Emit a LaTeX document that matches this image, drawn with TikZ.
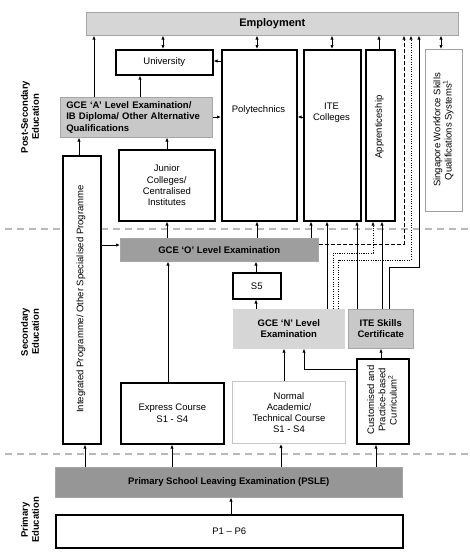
\documentclass[tikz,border=0pt]{standalone}
\usepackage{fontspec}
\setmainfont{Liberation Sans}
\usetikzlibrary{arrows.meta}
\definecolor{lgray}{RGB}{214,214,214}
\definecolor{mgray}{RGB}{200,200,200}
\definecolor{dgray}{RGB}{158,158,158}
\definecolor{bgray}{RGB}{150,150,150}
\begin{document}
\begin{tikzpicture}[x=1pt,y=-1pt,
  bx/.style={draw=black, line width=1.6pt, fill=white, inner sep=0pt, anchor=north west, align=center, font=\fontsize{9.5}{11.2}\selectfont},
  gbx/.style={bx, draw=gray!70, line width=0.6pt, font=\fontsize{9.5}{11.2}\selectfont\bfseries},
  txt/.style={inner sep=0pt, align=center, font=\fontsize{9.5}{11.2}\selectfont},
  side/.style={inner sep=0pt, align=center, rotate=90, font=\fontsize{9.5}{10.8}\selectfont\bfseries},
  arr/.style={line width=0.9pt, -{Latex[length=4pt,width=3.4pt]}},
  darr/.style={line width=0.9pt, {Latex[length=4pt,width=3.4pt]}-{Latex[length=4pt,width=3.4pt]}},
  dsh/.style={arr, dash pattern=on 4pt off 2pt},
  dtt/.style={arr, dash pattern=on 1.1pt off 1.3pt},
  sep/.style={draw=gray!55, line width=1.1pt, dash pattern=on 7pt off 5pt}
]
\useasboundingbox (0,0) rectangle (470,555);

% separators
\draw[sep] (5,229) -- (468,229);
\draw[sep] (5,454) -- (468,454);

% side labels
\node[side] (lps) at (30,117) {Post-Secondary\\Education};
\node[side] (lsec) at (30,332) {Secondary\\Education};
\node[side] (lpri) at (30,520) {Primary\\Education};

% boxes
\node[gbx, fill=lgray, minimum width=372pt, minimum height=23pt, font=\fontsize{11}{13}\selectfont\bfseries] (emp) at (86,12) {Employment};
\node[bx, minimum width=97pt, minimum height=25pt] (univ) at (115,49) {University};
\node[gbx, fill=mgray, minimum width=152pt, minimum height=40pt, text width=140pt, align=left] (gcea) at (60,97) {GCE ‘A’ Level Examination/\\IB Diploma/ Other Alternative\\Qualifications};
\node[bx, minimum width=75pt, minimum height=171pt] (poly) at (221,49) {};
\node[txt] (polyt) at (258.5,110) {Polytechnics};
\node[bx, minimum width=57pt, minimum height=171pt] (ite) at (303,49) {};
\node[txt] (itet) at (331.5,113) {ITE\\Colleges};
\node[bx, minimum width=29pt, minimum height=171pt] (appr) at (365,49) {};
\node[txt, rotate=90] (apprt) at (379.5,127) {Apprenticeship};
\node[bx, draw=gray!75, line width=1pt, minimum width=37pt, minimum height=162pt] (swsq) at (425,49) {};
\node[txt, rotate=90] (swsqt) at (443.5,130) {Singapore Workforce Skills\\Qualifications Systems\textsuperscript{1}};
\node[bx, minimum width=96pt, minimum height=71pt] (jc) at (118,149) {Junior\\Colleges/\\Centralised\\Institutes};
\node[bx, minimum width=38pt, minimum height=288pt] (ip) at (62,155) {};
\node[txt, rotate=90] (ipt) at (81,299) {Integrated Programme/ Other Specialised Programme};
\node[gbx, fill=dgray, minimum width=198pt, minimum height=23pt] (gceo) at (120,238) {GCE ‘O’ Level Examination};
\node[bx, minimum width=48pt, minimum height=26pt] (s5) at (232,272) {S5};
\node[gbx, fill=lgray, draw=lgray, minimum width=111pt, minimum height=39pt] (gcen) at (233,309) {GCE ‘N’ Level\\Examination};
\node[gbx, fill=mgray, minimum width=65pt, minimum height=39pt] (itesc) at (348,309) {ITE Skills\\Certificate};
\node[bx, minimum width=103pt, minimum height=61pt] (exp) at (120,382) {Express Course\\S1 - S4};
\node[bx, draw=gray!45, line width=1pt, minimum width=113pt, minimum height=62pt] (na) at (232,381) {Normal\\Academic/\\Technical Course\\S1 - S4};
\node[bx, minimum width=52pt, minimum height=85pt] (cust) at (356,358) {};
\node[txt, rotate=90] (custt) at (382,400) {Customised and\\Practice-based\\Curriculum\textsuperscript{2}};
\node[gbx, fill=bgray, minimum width=347pt, minimum height=30pt] (psle) at (55,467) {Primary School Leaving Examination (PSLE)};
\node[bx, minimum width=347pt, minimum height=33pt] (p16) at (55,514) {P1 – P6};

% connectors to employment
\draw[arr] (gcea.north -| 94,0) -- (emp.south -| 94,0);
\draw[darr] (univ.north -| 163,0) -- (emp.south -| 163,0);
\draw[darr] (poly.north -| 257,0) -- (emp.south -| 257,0);
\draw[darr] (ite.north -| 332,0) -- (emp.south -| 332,0);
\draw[arr] (appr.north -| 379,0) -- (emp.south -| 379,0);
\draw[darr] (swsq.north -| 441,0) -- (emp.south -| 441,0);

% post-secondary
\draw[arr] (gcea.north -| 140,0) -- (univ.south -| 140,0);
\draw[arr] (poly.west |- 0,61) -- (univ.east |- 0,61);
\draw[arr] (gcea.east |- 0,117) -- (poly.west |- 0,117);
\draw[arr] (ite.west |- 0,117) -- (poly.east |- 0,117);
\draw[arr] (jc.north -| 167,0) -- (gcea.south -| 167,0);
\draw[arr] (ip.north -| 79,0) -- (gcea.south -| 79,0);

% GCE O
\draw[arr] (ip.east |- 0,245) -- (gceo.west |- 0,245);
\draw[arr] (gceo.north -| 167,0) -- (jc.south -| 167,0);
\draw[arr] (gceo.north -| 257,0) -- (poly.south -| 257,0);
\draw[arr] (gceo.north -| 311,0) -- (ite.south -| 311,0);
\draw[dsh] (gceo.east |- 0,244) -- (404,244) -- (emp.south -| 404,0);

% GCE N
\draw[dtt] (gcen.north -| 333,0) -- (333,253) -- (373,253) -- (appr.south -| 373,0);
\draw[dtt] (gcen.north -| 338,0) -- (338,260) -- (411,260) -- (emp.south -| 411,0);
\draw[arr] (gcen.north -| 327,0) -- (ite.south -| 327,0);
\draw[arr] (gcen.north -| 256,0) -- (s5.south -| 256,0);
\draw[arr] (s5.north -| 256,0) -- (gceo.south -| 256,0);

% ITE skills
\draw[arr] (itesc.north -| 357,0) -- (ite.south -| 357,0);
\draw[arr] (itesc.north -| 382,0) -- (appr.south -| 382,0);
\draw[arr] (itesc.north -| 389,0) -- (389,267) -- (419,267) -- (emp.south -| 419,0);

% secondary courses
\draw[arr] (exp.north -| 168,0) -- (gceo.south -| 168,0);
\draw[arr] (na.north -| 284,0) -- (gcen.south -| 284,0);
\draw[arr] (cust.north -| 381,0) -- (itesc.south -| 381,0);
\draw[arr] (cust.west |- 0,369) -- (304,369) -- (gcen.south -| 304,0);

% PSLE
\draw[arr] (psle.north -| 85,0) -- (ip.south -| 85,0);
\draw[arr] (psle.north -| 172,0) -- (exp.south -| 172,0);
\draw[arr] (psle.north -| 281,0) -- (na.south -| 281,0);
\draw[arr] (psle.north -| 376,0) -- (cust.south -| 376,0);
\draw[arr] (p16.north -| 231,0) -- (psle.south -| 231,0);
\end{tikzpicture}
\end{document}
